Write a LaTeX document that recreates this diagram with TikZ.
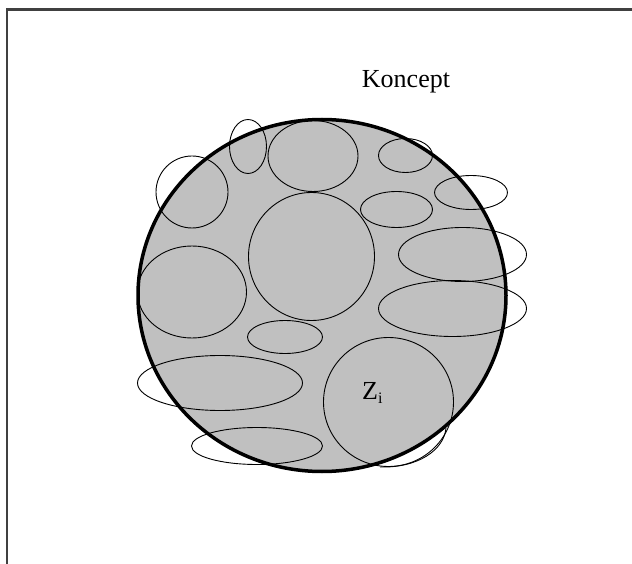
\documentclass[tikz,border=0pt]{standalone}
\usepackage{fontspec}
\setmainfont{Liberation Serif}
\definecolor{silver}{HTML}{C0C0C0}
\definecolor{framegray}{HTML}{404040}
\tikzset{part/.style={draw=black,line width=0.9pt}}

\begin{document}
\begin{tikzpicture}[x=1pt,y=-1pt]
\useasboundingbox (0,0) rectangle (632,564);
% frame
\draw[framegray,line width=2.2pt] (7,564) -- (7,9.5) -- (632,9.5);
% concept disc
\fill[silver] (322,295.5) ellipse (185pt and 177pt);
% parts
\draw[part] (192,192) ellipse (36pt and 36pt);
\draw[part] (248,146.5) ellipse (18.5pt and 27pt);
\draw[part] (313,156) ellipse (45pt and 35.5pt);
\draw[part] (311.5,256.5) ellipse (63pt and 64pt);
\draw[part] (192,292) ellipse (54.5pt and 46pt);
\draw[part] (405.5,155.5) ellipse (27pt and 17pt);
\draw[part] (471,192.5) ellipse (36.5pt and 17pt);
\draw[part] (396.5,209.5) ellipse (36pt and 18pt);
\draw[part] (462.5,254.5) ellipse (64pt and 27pt);
\draw[part] (452.5,308.5) ellipse (74pt and 28pt);
\draw[part] (285,337) ellipse (37.5pt and 16.5pt);
\draw[part] (220,383) ellipse (82.5pt and 27.5pt);
\draw[part] (257,446) ellipse (65.5pt and 18.5pt);
\draw[part] (388.5,402) ellipse (65pt and 64.5pt);
\draw[part] (446,428) .. controls (444,450) and (418,468) .. (380,467);
% rim
\draw[black,line width=3.5pt] (322,295.5) ellipse (184pt and 176pt);
\node[font=\fontsize{26}{30}\selectfont,anchor=base,inner sep=0pt] (koncept) at (406,88) {Koncept};
\node[font=\fontsize{26}{30}\selectfont,anchor=base west,inner sep=0pt] (zi) at (362,399) {Z\raisebox{-4pt}{\fontsize{16}{18}\selectfont i}};
\end{tikzpicture}
\end{document}
